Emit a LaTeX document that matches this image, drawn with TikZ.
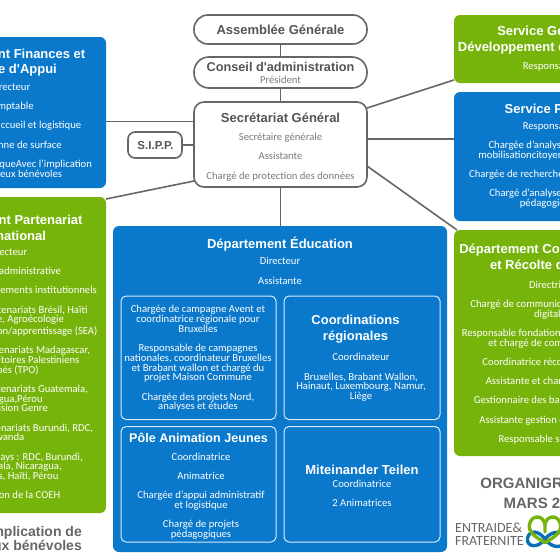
\documentclass[tikz,border=0pt]{standalone}
\usepackage{fontspec}
\setmainfont{Carlito}
\newfontfamily\hd{Liberation Sans}
\definecolor{eblue}{HTML}{0A78CB}
\definecolor{egreen}{HTML}{76B40B}
\definecolor{elogo}{HTML}{0B6FB5}
\definecolor{egray}{HTML}{666666}
\definecolor{etxt}{HTML}{7A7A7A}
\definecolor{ettl}{HTML}{555555}
\newcommand{\bodyfont}{\fontsize{10.65}{9.7}\selectfont}
\newcommand{\ttlfont}{\hd\bfseries\fontsize{13}{15.7}\selectfont}
\newcommand{\pb}{\\[9.6pt]}
\tikzset{
 bluebox/.style={fill=eblue,rounded corners=6pt,draw=none},
 greenbox/.style={fill=egreen,rounded corners=6pt,draw=none},
 inner/.style={draw=white!85!eblue,line width=1pt,rounded corners=5pt},
 outl/.style={draw=egray,line width=1.6pt,fill=white},
 conn/.style={draw=egray,line width=1.6pt},
 ttl/.style={font=\ttlfont,text=white,align=center,inner sep=0pt},
 bod/.style={font=\bodyfont,text=white,align=center,inner sep=0pt},
 gttl/.style={font=\ttlfont,text=ettl,align=center,inner sep=0pt},
 gbod/.style={font=\bodyfont,text=etxt,align=center,inner sep=0pt},
 logoline/.style={line width=3.4pt,line cap=round,line join=round},
}
\begin{document}
\begin{tikzpicture}[x=1pt,y=-1pt]
\useasboundingbox (0,0) rectangle (560,560);
\clip (0,0) rectangle (560,560);
% boxes
\path[bluebox] (-90,37) rectangle (106,188);
\path[greenbox] (-90,197) rectangle (106,513);
\path[greenbox] (454,15) rectangle (650,83);
\path[bluebox] (454,92) rectangle (650,221);
\path[greenbox] (454,230) rectangle (650,456);
\path[bluebox] (113,226) rectangle (447,552);
\path[inner] (121,296) rectangle (276,419.5);
\path[inner] (284,296) rectangle (440,419.5);
\path[inner] (121,426.5) rectangle (276,542);
\path[inner] (284,426.5) rectangle (440,542);
% outlined boxes
\node[outl,rounded corners=14pt,minimum width=173pt,minimum height=29pt] (ag) at (280.5,29.5) {};
\node[outl,rounded corners=15pt,minimum width=173pt,minimum height=31pt] (ca) at (280.5,72.5) {};
\node[outl,rounded corners=10pt,minimum width=173pt,minimum height=85pt] (sg) at (280.5,144.5) {};
\node[outl,rounded corners=7pt,minimum width=54pt,minimum height=26pt] (sipp) at (155,145) {};
\coordinate (dtop) at (280.5,226);
\coordinate (finR) at (106,121.5);
\coordinate (sgFin) at (194,121.5);
\coordinate (sgSipp) at (194,145);
\coordinate (parR) at (106,199);
\coordinate (sgPar) at (194,181);
\coordinate (sgGen) at (367,108);
\coordinate (genL) at (454,80);
\coordinate (sgPe) at (367,139);
\coordinate (peL) at (454,139);
\coordinate (sgCom) at (367,166);
\coordinate (comL) at (457,230);
\draw[conn] (ag) -- (ca);
\draw[conn] (ca) -- (sg);
\draw[conn] (sg.south) -- (dtop);
\draw[conn] (finR) -- (sgFin);
\draw[conn] (sipp.east) -- (sgSipp);
\draw[conn] (parR) -- (sgPar);
\draw[conn] (sgGen) -- (genL);
\draw[conn] (sgPe) -- (peL);
\draw[conn] (sgCom) -- (comL);
% center labels
\node[gttl] (t1) at (280.5,30) {Assemblée Générale};
\node[gttl,font=\hd\bfseries\fontsize{12.7}{15}\selectfont] (t2) at (280.5,67) {Conseil d'administration};
\node[gbod] (t3) at (280.5,80) {Président};
\node[gttl] (t4) at (280.5,118) {Secrétariat Général};
\node[gbod] (t5) at (280.5,157) {Secrétaire générale\pb Assistante\pb Chargé de protection des données};
\node[gttl,font=\hd\bfseries\fontsize{11.5}{13}\selectfont] (t6) at (155.5,145.5) {S.I.P.P.};
% left blue
\node[ttl] (f1) at (8,62.5) {Département Finances et\\Service d'Appui};
\node[bod] (f2) at (10,130) {Directeur\pb Comptable\pb Responsable accueil et logistique\pb Technicienne de surface\pb Chargé de logistiqueAvec l'implication\\de nombreux bénévoles};
% left green
\node[ttl] (p1) at (7,227.5) {Département Partenariat\\International};
\node[bod] (p2) at (7,373.5) {Directeur\pb Assistante administrative\pb Responsable financements institutionnels\pb Responsable partenariats Brésil, Haïti\\et Colombie, Agroécologie\\Système d'Évaluation/apprentissage (SEA)\pb Responsable partenariats Madagascar,\\Sénégal et Territoires Palestiniens\\Occupés (TPO)\pb Responsable partenariats Guatemala,\\Nicaragua,Pérou\\Commission Genre\pb Responsable partenariats Burundi, RDC,\\Rwanda\pb Coordinateurs pays : RDC, Burundi,\\et Guatemala, Nicaragua,\\Philippines, Haïti, Pérou\pb Coordination de la COEH};
\node[gttl,font=\hd\bfseries\fontsize{14}{14.5}\selectfont,text=egray,align=right,anchor=east] (v1) at (82,538.5) {Avec l'implication de\\nombreux bénévoles};
% right top
\node[ttl] (g1) at (554,40) {Service Gestion et\\Développement des personnes};
\node[bod] (g2) at (550,66.5) {Responsable};
\node[ttl] (s1) at (557,110) {Service Politique};
\node[bod] (s2) at (550,165) {Responsable\pb Chargée d'analyses politique\\mobilisationcitoyenne et réseaux\pb Chargée de recherche et de plaidoyer\pb Chargé d'analyses et d'outils\\pédagogiques};
% right green
\node[ttl] (c1) at (550,257) {Département Communication\\et Récolte de fonds};
\node[bod] (c2) at (550,362.5) {Directrice\pb Chargé de communication marketing\\digitale\pb Responsable fondation, legs et mécénats\\et chargé de communication\pb Coordinatrice récoltes de fonds\pb Assistante et chargée de dons\pb Gestionnaire des bases de données\pb Assistante gestion des donateurs\pb Responsable secrétariat};
% education
\node[ttl] (e1) at (280,244) {Département Éducation};
\node[bod] (e2) at (280,271) {Directeur\pb Assistante};
\node[bod] (e3) at (198,358.5) {Chargée de campagne Avent et\\coordinatrice régionale pour\\Bruxelles\pb Responsable de campagnes\\nationales, coordinateur Bruxelles\\et Brabant wallon et chargé du\\projet Maison Commune\pb Chargée des projets Nord,\\analyses et études};
\node[ttl] (e4) at (355.5,329.5) {Coordinations\\régionales};
\node[bod] (e5) at (361,377.5) {Coordinateur\pb Bruxelles, Brabant Wallon,\\Hainaut, Luxembourg, Namur,\\Liège};
\node[ttl,font=\hd\bfseries\fontsize{12.6}{15}\selectfont] (e6) at (198.5,438) {Pôle Animation Jeunes};
\node[bod] (e7) at (201,496) {Coordinatrice\pb Animatrice\pb Chargée d'appui administratif\\et logistique\pb Chargé de projets\\pédagogiques};
\node[ttl] (e8) at (362,470) {Miteinander Teilen};
\node[bod] (e9) at (362,493) {Coordinatrice\pb 2 Animatrices};
% bottom right
\node[gttl,font=\hd\bfseries\fontsize{15}{20}\selectfont,text=egray] (o1) at (544.5,493) {ORGANIGRAMME\\MARS 2021};
\node[font=\fontsize{14}{13}\selectfont,text=egray,align=left,anchor=west,inner sep=0pt] (o2) at (455,534.5) {ENTRAIDE\&\\FRATERNITE};
% logo
\draw[logoline,elogo] (545,539) .. controls (539,531) and (530,529) .. (527.5,538)
  .. controls (526,547) and (538,549) .. (545,539)
  .. controls (552,530) and (564,530) .. (567,539)
  .. controls (564,549) and (552,549) .. (545,539);
\draw[logoline,egreen] (545,542.5) .. controls (535,537) and (528,532) .. (529.5,524)
  .. controls (532,514) and (544,515) .. (545,525) -- (545,532)
  (545,542.5) .. controls (555,537) and (562,532) .. (560.5,524)
  .. controls (558,514) and (546,515) .. (545,525);
\end{tikzpicture}
\end{document}
